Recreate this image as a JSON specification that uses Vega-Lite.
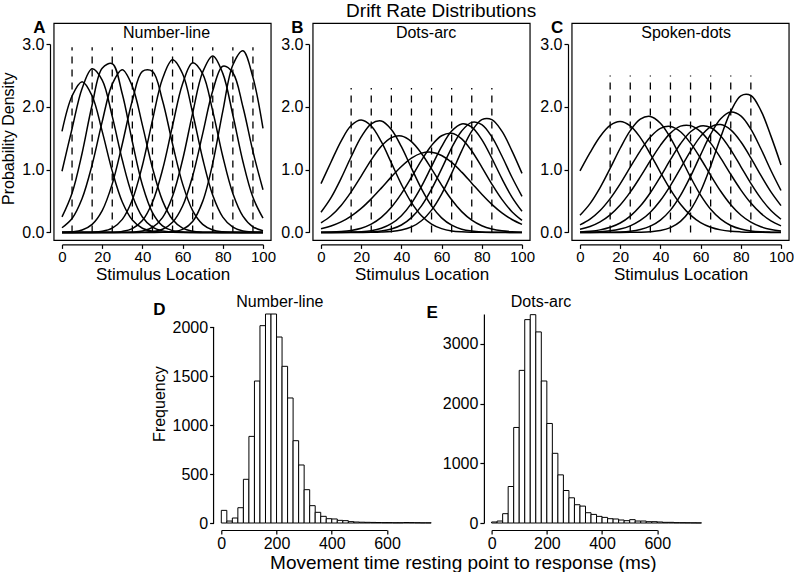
{
  "$schema": "https://vega.github.io/schema/vega-lite/v6.json",
  "padding": {"left": 0, "top": 2, "right": 0, "bottom": 0},
  "background": "white",
  "title": {"text": "Drift Rate Distributions", "fontSize": 19, "fontWeight": "normal", "anchor": "middle", "dx": 44, "offset": -2, "color": "black"},
  "config": {
    "font": "Liberation Sans",
    "view": {"stroke": null},
    "axis": {"grid": false, "domainColor": "black", "tickColor": "black", "labelColor": "black", "titleColor": "black", "labelFontSize": 16, "titleFontSize": 16, "titleFontWeight": "normal", "tickSize": 4, "domainWidth": 1.2, "tickWidth": 1.2, "labelPadding": 2, "labelFlush": false, "labelOverlap": false, "labelBound": false},
    "text": {"color": "black"}
  },
  "datasets": {
    "curvesA": [
      {"x": 0, "c1": 1.609, "c2": 0.974, "c3": 0.247, "c4": 0.074, "c5": 0.002, "c6": 0, "c7": 0, "c8": 0, "c9": 0, "c10": 0},
      {"x": 5, "c1": 2.172, "c2": 1.651, "c3": 0.625, "c4": 0.221, "c5": 0.009, "c6": 0, "c7": 0, "c8": 0, "c9": 0, "c10": 0},
      {"x": 10, "c1": 2.4, "c2": 2.292, "c3": 1.261, "c4": 0.54, "c5": 0.038, "c6": 0.001, "c7": 0, "c8": 0, "c9": 0, "c10": 0},
      {"x": 15, "c1": 2.172, "c2": 2.605, "c3": 2.033, "c4": 1.078, "c5": 0.128, "c6": 0.004, "c7": 0, "c8": 0, "c9": 0, "c10": 0},
      {"x": 20, "c1": 1.609, "c2": 2.424, "c3": 2.615, "c4": 1.764, "c5": 0.347, "c6": 0.018, "c7": 0.001, "c8": 0, "c9": 0, "c10": 0},
      {"x": 25, "c1": 0.976, "c2": 1.847, "c3": 2.686, "c4": 2.362, "c5": 0.773, "c6": 0.068, "c7": 0.003, "c8": 0, "c9": 0, "c10": 0},
      {"x": 30, "c1": 0.485, "c2": 1.152, "c3": 2.203, "c4": 2.59, "c5": 1.408, "c6": 0.208, "c7": 0.016, "c8": 0.001, "c9": 0, "c10": 0},
      {"x": 35, "c1": 0.197, "c2": 0.588, "c3": 1.444, "c4": 2.325, "c5": 2.1, "c6": 0.52, "c7": 0.061, "c8": 0.005, "c9": 0, "c10": 0},
      {"x": 40, "c1": 0.066, "c2": 0.246, "c3": 0.755, "c4": 1.709, "c5": 2.565, "c6": 1.065, "c7": 0.189, "c8": 0.022, "c9": 0.003, "c10": 0},
      {"x": 45, "c1": 0.018, "c2": 0.084, "c3": 0.316, "c4": 1.028, "c5": 2.565, "c6": 1.784, "c7": 0.48, "c8": 0.079, "c9": 0.013, "c10": 0},
      {"x": 50, "c1": 0.004, "c2": 0.024, "c3": 0.105, "c4": 0.506, "c5": 2.1, "c6": 2.446, "c7": 0.997, "c8": 0.235, "c9": 0.05, "c10": 0.002},
      {"x": 55, "c1": 0.001, "c2": 0.005, "c3": 0.028, "c4": 0.204, "c5": 1.408, "c6": 2.748, "c7": 1.699, "c8": 0.576, "c9": 0.161, "c10": 0.011},
      {"x": 60, "c1": 0, "c2": 0.001, "c3": 0.006, "c4": 0.067, "c5": 0.773, "c6": 2.526, "c7": 2.368, "c8": 1.156, "c9": 0.42, "c10": 0.048},
      {"x": 65, "c1": 0, "c2": 0, "c3": 0.001, "c4": 0.018, "c5": 0.347, "c6": 1.902, "c7": 2.703, "c8": 1.899, "c9": 0.899, "c10": 0.174},
      {"x": 70, "c1": 0, "c2": 0, "c3": 0, "c4": 0.004, "c5": 0.128, "c6": 1.172, "c7": 2.525, "c8": 2.553, "c9": 1.573, "c10": 0.494},
      {"x": 75, "c1": 0, "c2": 0, "c3": 0, "c4": 0.001, "c5": 0.038, "c6": 0.591, "c7": 1.931, "c8": 2.81, "c9": 2.255, "c10": 1.101},
      {"x": 80, "c1": 0, "c2": 0, "c3": 0, "c4": 0, "c5": 0.009, "c6": 0.244, "c7": 1.209, "c8": 2.532, "c9": 2.646, "c10": 1.932},
      {"x": 85, "c1": 0, "c2": 0, "c3": 0, "c4": 0, "c5": 0.002, "c6": 0.083, "c7": 0.62, "c8": 1.869, "c9": 2.542, "c10": 2.665},
      {"x": 90, "c1": 0, "c2": 0, "c3": 0, "c4": 0, "c5": 0, "c6": 0.023, "c7": 0.26, "c8": 1.129, "c9": 2.0, "c10": 2.891},
      {"x": 95, "c1": 0, "c2": 0, "c3": 0, "c4": 0, "c5": 0, "c6": 0.005, "c7": 0.089, "c8": 0.558, "c9": 1.288, "c10": 2.468},
      {"x": 100, "c1": 0, "c2": 0, "c3": 0, "c4": 0, "c5": 0, "c6": 0.001, "c7": 0.025, "c8": 0.226, "c9": 0.679, "c10": 1.657}
    ],
    "curvesB": [
      {"x": 0, "c1": 0.776, "c2": 0.321, "c3": 0.151, "c4": 0.059, "c5": 0.002, "c6": 0, "c7": 0, "c8": 0},
      {"x": 5, "c1": 1.121, "c2": 0.554, "c3": 0.265, "c4": 0.102, "c5": 0.005, "c6": 0, "c7": 0, "c8": 0},
      {"x": 10, "c1": 1.455, "c2": 0.86, "c3": 0.43, "c4": 0.167, "c5": 0.014, "c6": 0.001, "c7": 0, "c8": 0},
      {"x": 15, "c1": 1.702, "c2": 1.205, "c3": 0.646, "c4": 0.26, "c5": 0.032, "c6": 0.004, "c7": 0.001, "c8": 0},
      {"x": 20, "c1": 1.79, "c2": 1.521, "c3": 0.897, "c4": 0.382, "c5": 0.067, "c6": 0.011, "c7": 0.003, "c8": 0},
      {"x": 25, "c1": 1.694, "c2": 1.73, "c3": 1.154, "c4": 0.534, "c5": 0.132, "c6": 0.028, "c7": 0.008, "c8": 0.001},
      {"x": 30, "c1": 1.444, "c2": 1.774, "c3": 1.372, "c4": 0.705, "c5": 0.24, "c6": 0.065, "c7": 0.022, "c8": 0.005},
      {"x": 35, "c1": 1.107, "c2": 1.639, "c3": 1.509, "c4": 0.884, "c5": 0.401, "c6": 0.138, "c7": 0.053, "c8": 0.014},
      {"x": 40, "c1": 0.764, "c2": 1.365, "c3": 1.535, "c4": 1.05, "c5": 0.618, "c6": 0.266, "c7": 0.118, "c8": 0.037},
      {"x": 45, "c1": 0.474, "c2": 1.024, "c3": 1.445, "c4": 1.183, "c5": 0.878, "c6": 0.463, "c7": 0.235, "c8": 0.087},
      {"x": 50, "c1": 0.265, "c2": 0.693, "c3": 1.257, "c4": 1.262, "c5": 1.148, "c6": 0.732, "c7": 0.423, "c8": 0.186},
      {"x": 55, "c1": 0.133, "c2": 0.422, "c3": 1.012, "c4": 1.277, "c5": 1.385, "c6": 1.05, "c7": 0.689, "c8": 0.355},
      {"x": 60, "c1": 0.06, "c2": 0.232, "c3": 0.754, "c4": 1.225, "c5": 1.539, "c6": 1.366, "c7": 1.012, "c8": 0.61},
      {"x": 65, "c1": 0.024, "c2": 0.115, "c3": 0.519, "c4": 1.114, "c5": 1.577, "c6": 1.613, "c7": 1.346, "c8": 0.94},
      {"x": 70, "c1": 0.009, "c2": 0.051, "c3": 0.331, "c4": 0.96, "c5": 1.49, "c6": 1.727, "c7": 1.615, "c8": 1.299},
      {"x": 75, "c1": 0.003, "c2": 0.021, "c3": 0.195, "c4": 0.784, "c5": 1.297, "c6": 1.677, "c7": 1.752, "c8": 1.612},
      {"x": 80, "c1": 0.001, "c2": 0.007, "c3": 0.106, "c4": 0.607, "c5": 1.041, "c6": 1.477, "c7": 1.717, "c8": 1.796},
      {"x": 85, "c1": 0, "c2": 0.002, "c3": 0.054, "c4": 0.446, "c5": 0.77, "c6": 1.181, "c7": 1.52, "c8": 1.796},
      {"x": 90, "c1": 0, "c2": 0.001, "c3": 0.025, "c4": 0.31, "c5": 0.525, "c6": 0.856, "c7": 1.216, "c8": 1.612},
      {"x": 95, "c1": 0, "c2": 0, "c3": 0.011, "c4": 0.205, "c5": 0.33, "c6": 0.563, "c7": 0.878, "c8": 1.299},
      {"x": 100, "c1": 0, "c2": 0, "c3": 0.004, "c4": 0.128, "c5": 0.191, "c6": 0.336, "c7": 0.574, "c8": 0.94}
    ],
    "curvesC": [
      {"x": 0, "c1": 0.98, "c2": 0.272, "c3": 0.12, "c4": 0.05, "c5": 0.008, "c6": 0.002, "c7": 0, "c8": 0},
      {"x": 5, "c1": 1.271, "c2": 0.458, "c3": 0.212, "c4": 0.095, "c5": 0.019, "c6": 0.005, "c7": 0, "c8": 0},
      {"x": 10, "c1": 1.528, "c2": 0.713, "c3": 0.349, "c4": 0.168, "c5": 0.04, "c6": 0.011, "c7": 0.001, "c8": 0},
      {"x": 15, "c1": 1.705, "c2": 1.019, "c3": 0.538, "c4": 0.28, "c5": 0.081, "c6": 0.025, "c7": 0.003, "c8": 0},
      {"x": 20, "c1": 1.765, "c2": 1.34, "c3": 0.773, "c4": 0.437, "c5": 0.15, "c6": 0.053, "c7": 0.007, "c8": 0},
      {"x": 25, "c1": 1.695, "c2": 1.621, "c3": 1.038, "c4": 0.641, "c5": 0.26, "c6": 0.104, "c7": 0.019, "c8": 0.001},
      {"x": 30, "c1": 1.51, "c2": 1.804, "c3": 1.299, "c4": 0.883, "c5": 0.42, "c6": 0.19, "c7": 0.046, "c8": 0.003},
      {"x": 35, "c1": 1.248, "c2": 1.846, "c3": 1.519, "c4": 1.142, "c5": 0.632, "c6": 0.322, "c7": 0.099, "c8": 0.01},
      {"x": 40, "c1": 0.957, "c2": 1.739, "c3": 1.657, "c4": 1.386, "c5": 0.886, "c6": 0.508, "c7": 0.196, "c8": 0.029},
      {"x": 45, "c1": 0.681, "c2": 1.506, "c3": 1.687, "c4": 1.581, "c5": 1.158, "c6": 0.746, "c7": 0.355, "c8": 0.076},
      {"x": 50, "c1": 0.449, "c2": 1.2, "c3": 1.603, "c4": 1.692, "c5": 1.411, "c6": 1.019, "c7": 0.589, "c8": 0.176},
      {"x": 55, "c1": 0.275, "c2": 0.88, "c3": 1.421, "c4": 1.7, "c5": 1.602, "c6": 1.295, "c7": 0.892, "c8": 0.361},
      {"x": 60, "c1": 0.156, "c2": 0.593, "c3": 1.177, "c4": 1.605, "c5": 1.695, "c6": 1.529, "c7": 1.235, "c8": 0.655},
      {"x": 65, "c1": 0.082, "c2": 0.368, "c3": 0.909, "c4": 1.422, "c5": 1.671, "c6": 1.681, "c7": 1.564, "c8": 1.058},
      {"x": 70, "c1": 0.04, "c2": 0.21, "c3": 0.655, "c4": 1.183, "c5": 1.535, "c6": 1.717, "c7": 1.811, "c8": 1.515},
      {"x": 75, "c1": 0.018, "c2": 0.11, "c3": 0.441, "c4": 0.924, "c5": 1.315, "c6": 1.632, "c7": 1.918, "c8": 1.926},
      {"x": 80, "c1": 0.008, "c2": 0.053, "c3": 0.277, "c4": 0.678, "c5": 1.049, "c6": 1.443, "c7": 1.857, "c8": 2.175},
      {"x": 85, "c1": 0.003, "c2": 0.024, "c3": 0.162, "c4": 0.467, "c5": 0.78, "c6": 1.187, "c7": 1.645, "c8": 2.18},
      {"x": 90, "c1": 0.001, "c2": 0.01, "c3": 0.089, "c4": 0.302, "c5": 0.541, "c6": 0.907, "c7": 1.332, "c8": 1.94},
      {"x": 95, "c1": 0, "c2": 0.004, "c3": 0.045, "c4": 0.183, "c5": 0.349, "c6": 0.645, "c7": 0.986, "c8": 1.533},
      {"x": 100, "c1": 0, "c2": 0.001, "c3": 0.022, "c4": 0.104, "c5": 0.21, "c6": 0.427, "c7": 0.667, "c8": 1.075}
    ],
    "dashA": [
      {"x": 5, "bot": 0, "top": 2.95}, {"x": 15, "bot": 0, "top": 2.95}, {"x": 25, "bot": 0, "top": 2.95}, {"x": 35, "bot": 0, "top": 2.95}, {"x": 45, "bot": 0, "top": 2.95},
      {"x": 55, "bot": 0, "top": 2.95}, {"x": 65, "bot": 0, "top": 2.95}, {"x": 75, "bot": 0, "top": 2.95}, {"x": 85, "bot": 0, "top": 2.95}, {"x": 95, "bot": 0, "top": 2.95}
    ],
    "dashB": [
      {"x": 15, "bot": 0, "top": 2.3}, {"x": 25, "bot": 0, "top": 2.3}, {"x": 35, "bot": 0, "top": 2.3}, {"x": 45, "bot": 0, "top": 2.3},
      {"x": 55, "bot": 0, "top": 2.3}, {"x": 65, "bot": 0, "top": 2.3}, {"x": 75, "bot": 0, "top": 2.3}, {"x": 85, "bot": 0, "top": 2.3}
    ],
    "dashC": [
      {"x": 15, "bot": 0, "top": 2.5}, {"x": 25, "bot": 0, "top": 2.5}, {"x": 35, "bot": 0, "top": 2.5}, {"x": 45, "bot": 0, "top": 2.5},
      {"x": 55, "bot": 0, "top": 2.5}, {"x": 65, "bot": 0, "top": 2.5}, {"x": 75, "bot": 0, "top": 2.5}, {"x": 85, "bot": 0, "top": 2.5}
    ],
    "histD": [
      {"b0": 0, "b1": 20, "n": 129}, {"b0": 20, "b1": 40, "n": 20}, {"b0": 40, "b1": 60, "n": 51}, {"b0": 60, "b1": 80, "n": 156},
      {"b0": 80, "b1": 100, "n": 446}, {"b0": 100, "b1": 120, "n": 884}, {"b0": 120, "b1": 140, "n": 1449}, {"b0": 140, "b1": 160, "n": 2014},
      {"b0": 160, "b1": 180, "n": 2133}, {"b0": 180, "b1": 200, "n": 2133}, {"b0": 200, "b1": 220, "n": 1898}, {"b0": 220, "b1": 240, "n": 1599},
      {"b0": 240, "b1": 260, "n": 1276}, {"b0": 260, "b1": 280, "n": 840}, {"b0": 280, "b1": 300, "n": 592}, {"b0": 300, "b1": 320, "n": 340},
      {"b0": 320, "b1": 340, "n": 177}, {"b0": 340, "b1": 360, "n": 109}, {"b0": 360, "b1": 380, "n": 68}, {"b0": 380, "b1": 400, "n": 44},
      {"b0": 400, "b1": 420, "n": 41}, {"b0": 420, "b1": 440, "n": 27}, {"b0": 440, "b1": 460, "n": 24}, {"b0": 460, "b1": 480, "n": 14},
      {"b0": 480, "b1": 500, "n": 10}, {"b0": 500, "b1": 520, "n": 8}, {"b0": 520, "b1": 540, "n": 7}, {"b0": 540, "b1": 560, "n": 6},
      {"b0": 560, "b1": 580, "n": 5}, {"b0": 580, "b1": 600, "n": 4}, {"b0": 600, "b1": 620, "n": 4}, {"b0": 620, "b1": 640, "n": 3},
      {"b0": 640, "b1": 660, "n": 3}, {"b0": 660, "b1": 680, "n": 5}, {"b0": 680, "b1": 700, "n": 4}, {"b0": 700, "b1": 720, "n": 3},
      {"b0": 720, "b1": 740, "n": 2}, {"b0": 740, "b1": 760, "n": 2}
    ],
    "histE": [
      {"b0": 0, "b1": 20, "n": 17}, {"b0": 20, "b1": 40, "n": 33}, {"b0": 40, "b1": 60, "n": 156}, {"b0": 60, "b1": 80, "n": 611},
      {"b0": 80, "b1": 100, "n": 1600}, {"b0": 100, "b1": 120, "n": 2556}, {"b0": 120, "b1": 140, "n": 3406}, {"b0": 140, "b1": 160, "n": 3489},
      {"b0": 160, "b1": 180, "n": 3200}, {"b0": 180, "b1": 200, "n": 2378}, {"b0": 200, "b1": 220, "n": 1667}, {"b0": 220, "b1": 240, "n": 1167},
      {"b0": 240, "b1": 260, "n": 806}, {"b0": 260, "b1": 280, "n": 544}, {"b0": 280, "b1": 300, "n": 422}, {"b0": 300, "b1": 320, "n": 306},
      {"b0": 320, "b1": 340, "n": 283}, {"b0": 340, "b1": 360, "n": 172}, {"b0": 360, "b1": 380, "n": 144}, {"b0": 380, "b1": 400, "n": 111},
      {"b0": 400, "b1": 420, "n": 94}, {"b0": 420, "b1": 440, "n": 72}, {"b0": 440, "b1": 460, "n": 67}, {"b0": 460, "b1": 480, "n": 50},
      {"b0": 480, "b1": 500, "n": 39}, {"b0": 500, "b1": 520, "n": 56}, {"b0": 520, "b1": 540, "n": 33}, {"b0": 540, "b1": 560, "n": 33},
      {"b0": 560, "b1": 580, "n": 22}, {"b0": 580, "b1": 600, "n": 22}, {"b0": 600, "b1": 620, "n": 17}, {"b0": 620, "b1": 640, "n": 11},
      {"b0": 640, "b1": 660, "n": 11}, {"b0": 660, "b1": 680, "n": 6}, {"b0": 680, "b1": 700, "n": 5}, {"b0": 700, "b1": 720, "n": 4},
      {"b0": 720, "b1": 740, "n": 3}, {"b0": 740, "b1": 760, "n": 2}
    ]
  },
  "spacing": 10,
  "vconcat": [
    {
      "hconcat": [
        {
          "width": 201, "height": 188.4,
          "layer": [
            {"data": {"values": [{"x0": -4, "x1": 104, "y0": -0.128, "y1": 3.328}]},
             "mark": {"type": "rect", "fillOpacity": 0, "stroke": "black", "strokeWidth": 1.2},
             "encoding": {
               "x": {"field": "x0", "type": "quantitative", "scale": {"domain": [0, 100], "nice": false, "zero": false},
                     "axis": {"values": [0, 20, 40, 60, 80, 100], "offset": 12, "title": "Stimulus Location", "titleFontSize": 17, "titlePadding": 2, "labelPadding": 1, "labelFontSize": 15}},
               "x2": {"field": "x1"},
               "y": {"field": "y0", "type": "quantitative", "scale": {"domain": [0, 3], "nice": false, "zero": false},
                     "axis": {"values": [0, 0.5, 1, 1.5, 2, 2.5, 3], "labelExpr": "datum.value % 1 === 0 ? format(datum.value, '.1f') : ''", "offset": 12, "title": "Probability Density", "titlePadding": 5}},
               "y2": {"field": "y1"}
             }},
            {"data": {"name": "dashA"},
             "mark": {"type": "rule", "strokeDash": [7, 6], "strokeWidth": 1.3, "color": "black"},
             "encoding": {"x": {"field": "x", "type": "quantitative"}, "y": {"field": "bot", "type": "quantitative"}, "y2": {"field": "top"}}},
            {"data": {"name": "curvesA"},
             "transform": [{"fold": ["c1", "c2", "c3", "c4", "c5", "c6", "c7", "c8", "c9", "c10"], "as": ["curve", "y"]}],
             "mark": {"type": "line", "interpolate": "catmull-rom", "color": "black", "strokeWidth": 1.5},
             "encoding": {"x": {"field": "x", "type": "quantitative"}, "y": {"field": "y", "type": "quantitative"}, "detail": {"field": "curve", "type": "nominal"}}},
            {"data": {"values": [{"t": "Number-line", "x": 52, "y": 3.09}]},
             "mark": {"type": "text", "fontSize": 16, "baseline": "alphabetic"},
             "encoding": {"x": {"field": "x", "type": "quantitative"}, "y": {"field": "y", "type": "quantitative"}, "text": {"field": "t", "type": "nominal"}}},
            {"data": {"values": [{"t": "A", "x": -11.2, "y": 3.17}]},
             "mark": {"type": "text", "fontSize": 17, "fontWeight": "bold", "baseline": "alphabetic"},
             "encoding": {"x": {"field": "x", "type": "quantitative"}, "y": {"field": "y", "type": "quantitative"}, "text": {"field": "t", "type": "nominal"}}}
          ]
        },
        {
          "width": 201, "height": 188.4,
          "layer": [
            {"data": {"values": [{"x0": -4, "x1": 104, "y0": -0.128, "y1": 3.328}]},
             "mark": {"type": "rect", "fillOpacity": 0, "stroke": "black", "strokeWidth": 1.2},
             "encoding": {
               "x": {"field": "x0", "type": "quantitative", "scale": {"domain": [0, 100], "nice": false, "zero": false},
                     "axis": {"values": [0, 20, 40, 60, 80, 100], "offset": 12, "title": "Stimulus Location", "titleFontSize": 17, "titlePadding": 2, "labelPadding": 1, "labelFontSize": 15}},
               "x2": {"field": "x1"},
               "y": {"field": "y0", "type": "quantitative", "scale": {"domain": [0, 3], "nice": false, "zero": false},
                     "axis": {"values": [0, 0.5, 1, 1.5, 2, 2.5, 3], "labelExpr": "datum.value % 1 === 0 ? format(datum.value, '.1f') : ''", "offset": 12, "title": null}},
               "y2": {"field": "y1"}
             }},
            {"data": {"name": "dashB"},
             "mark": {"type": "rule", "strokeDash": [7, 6], "strokeWidth": 1.3, "color": "black"},
             "encoding": {"x": {"field": "x", "type": "quantitative"}, "y": {"field": "bot", "type": "quantitative"}, "y2": {"field": "top"}}},
            {"data": {"name": "curvesB"},
             "transform": [{"fold": ["c1", "c2", "c3", "c4", "c5", "c6", "c7", "c8"], "as": ["curve", "y"]}],
             "mark": {"type": "line", "interpolate": "catmull-rom", "color": "black", "strokeWidth": 1.5},
             "encoding": {"x": {"field": "x", "type": "quantitative"}, "y": {"field": "y", "type": "quantitative"}, "detail": {"field": "curve", "type": "nominal"}}},
            {"data": {"values": [{"t": "Dots-arc", "x": 52.3, "y": 3.09}]},
             "mark": {"type": "text", "fontSize": 16, "baseline": "alphabetic"},
             "encoding": {"x": {"field": "x", "type": "quantitative"}, "y": {"field": "y", "type": "quantitative"}, "text": {"field": "t", "type": "nominal"}}},
            {"data": {"values": [{"t": "B", "x": -11.8, "y": 3.17}]},
             "mark": {"type": "text", "fontSize": 17, "fontWeight": "bold", "baseline": "alphabetic"},
             "encoding": {"x": {"field": "x", "type": "quantitative"}, "y": {"field": "y", "type": "quantitative"}, "text": {"field": "t", "type": "nominal"}}}
          ]
        },
        {
          "width": 201, "height": 188.4,
          "layer": [
            {"data": {"values": [{"x0": -4, "x1": 104, "y0": -0.128, "y1": 3.328}]},
             "mark": {"type": "rect", "fillOpacity": 0, "stroke": "black", "strokeWidth": 1.2},
             "encoding": {
               "x": {"field": "x0", "type": "quantitative", "scale": {"domain": [0, 100], "nice": false, "zero": false},
                     "axis": {"values": [0, 20, 40, 60, 80, 100], "offset": 12, "title": "Stimulus Location", "titleFontSize": 17, "titlePadding": 2, "labelPadding": 1, "labelFontSize": 15}},
               "x2": {"field": "x1"},
               "y": {"field": "y0", "type": "quantitative", "scale": {"domain": [0, 3], "nice": false, "zero": false},
                     "axis": {"values": [0, 0.5, 1, 1.5, 2, 2.5, 3], "labelExpr": "datum.value % 1 === 0 ? format(datum.value, '.1f') : ''", "offset": 12, "title": null}},
               "y2": {"field": "y1"}
             }},
            {"data": {"name": "dashC"},
             "mark": {"type": "rule", "strokeDash": [7, 6], "strokeWidth": 1.3, "color": "black"},
             "encoding": {"x": {"field": "x", "type": "quantitative"}, "y": {"field": "bot", "type": "quantitative"}, "y2": {"field": "top"}}},
            {"data": {"name": "curvesC"},
             "transform": [{"fold": ["c1", "c2", "c3", "c4", "c5", "c6", "c7", "c8"], "as": ["curve", "y"]}],
             "mark": {"type": "line", "interpolate": "catmull-rom", "color": "black", "strokeWidth": 1.5},
             "encoding": {"x": {"field": "x", "type": "quantitative"}, "y": {"field": "y", "type": "quantitative"}, "detail": {"field": "curve", "type": "nominal"}}},
            {"data": {"values": [{"t": "Spoken-dots", "x": 52.8, "y": 3.09}]},
             "mark": {"type": "text", "fontSize": 16, "baseline": "alphabetic"},
             "encoding": {"x": {"field": "x", "type": "quantitative"}, "y": {"field": "y", "type": "quantitative"}, "text": {"field": "t", "type": "nominal"}}},
            {"data": {"values": [{"t": "C", "x": -11.4, "y": 3.17}]},
             "mark": {"type": "text", "fontSize": 17, "fontWeight": "bold", "baseline": "alphabetic"},
             "encoding": {"x": {"field": "x", "type": "quantitative"}, "y": {"field": "y", "type": "quantitative"}, "text": {"field": "t", "type": "nominal"}}}
          ]
        }
      ],
      "spacing": 58,
      "bounds": "flush"
    },
    {
      "hconcat": [
        {"width": 55, "height": 209, "data": {"values": [{"t": ""}]}, "mark": {"type": "text"}, "encoding": {"text": {"field": "t", "type": "nominal"}}},
        {
          "width": 165.7, "height": 209,
          "layer": [
            {"data": {"name": "histD"},
             "mark": {"type": "rect", "fill": "white", "stroke": "black", "strokeWidth": 1},
             "encoding": {
               "x": {"field": "b0", "type": "quantitative", "scale": {"domain": [0, 600], "nice": false, "zero": false},
                     "axis": {"values": [0, 200, 400, 600], "format": "d", "offset": 7, "labelPadding": 1, "title": "Movement time resting point to response (ms)", "titleFontSize": 19, "titleX": 241.5, "titlePadding": 2}},
               "x2": {"field": "b1"},
               "y": {"field": "n", "type": "quantitative", "scale": {"domain": [0, 2133], "nice": false, "zero": true},
                     "axis": {"values": [0, 500, 1000, 1500, 2000], "format": "d", "offset": 7.7, "domain": false, "title": "Frequency", "titleY": 89.6, "titlePadding": 5}},
               "y2": {"datum": 0}
             }},
            {"data": {"values": [{"x": -28, "lo": 0, "hi": 2000}]},
             "mark": {"type": "rule", "strokeWidth": 1.2, "color": "black"},
             "encoding": {"x": {"field": "x", "type": "quantitative"}, "y": {"field": "lo", "type": "quantitative"}, "y2": {"field": "hi"}}},
            {"data": {"values": [{"t": "Number-line", "x": 212, "y": 2204}]},
             "mark": {"type": "text", "fontSize": 16, "baseline": "alphabetic"},
             "encoding": {"x": {"field": "x", "type": "quantitative"}, "y": {"field": "y", "type": "quantitative"}, "text": {"field": "t", "type": "nominal"}}},
            {"data": {"values": [{"t": "D", "x": -224, "y": 2120}]},
             "mark": {"type": "text", "fontSize": 17, "fontWeight": "bold", "baseline": "alphabetic"},
             "encoding": {"x": {"field": "x", "type": "quantitative"}, "y": {"field": "y", "type": "quantitative"}, "text": {"field": "t", "type": "nominal"}}}
          ]
        },
        {
          "width": 165.7, "height": 209,
          "layer": [
            {"data": {"name": "histE"},
             "mark": {"type": "rect", "fill": "white", "stroke": "black", "strokeWidth": 1},
             "encoding": {
               "x": {"field": "b0", "type": "quantitative", "scale": {"domain": [0, 600], "nice": false, "zero": false},
                     "axis": {"values": [0, 200, 400, 600], "format": "d", "offset": 7, "labelPadding": 1, "title": null}},
               "x2": {"field": "b1"},
               "y": {"field": "n", "type": "quantitative", "scale": {"domain": [0, 3500], "nice": false, "zero": true},
                     "axis": {"values": [0, 500, 1000, 1500, 2000, 2500, 3000, 3500], "labelExpr": "datum.value % 1000 === 0 ? format(datum.value, 'd') : ''", "offset": 7.7, "title": null}},
               "y2": {"datum": 0}
             }},
            {"data": {"values": [{"t": "Dots-arc", "x": 179, "y": 3618}]},
             "mark": {"type": "text", "fontSize": 16, "baseline": "alphabetic"},
             "encoding": {"x": {"field": "x", "type": "quantitative"}, "y": {"field": "y", "type": "quantitative"}, "text": {"field": "t", "type": "nominal"}}},
            {"data": {"values": [{"t": "E", "x": -215, "y": 3440}]},
             "mark": {"type": "text", "fontSize": 17, "fontWeight": "bold", "baseline": "alphabetic"},
             "encoding": {"x": {"field": "x", "type": "quantitative"}, "y": {"field": "y", "type": "quantitative"}, "text": {"field": "t", "type": "nominal"}}}
          ]
        }
      ],
      "spacing": 104.3,
      "bounds": "flush"
    }
  ]
}
